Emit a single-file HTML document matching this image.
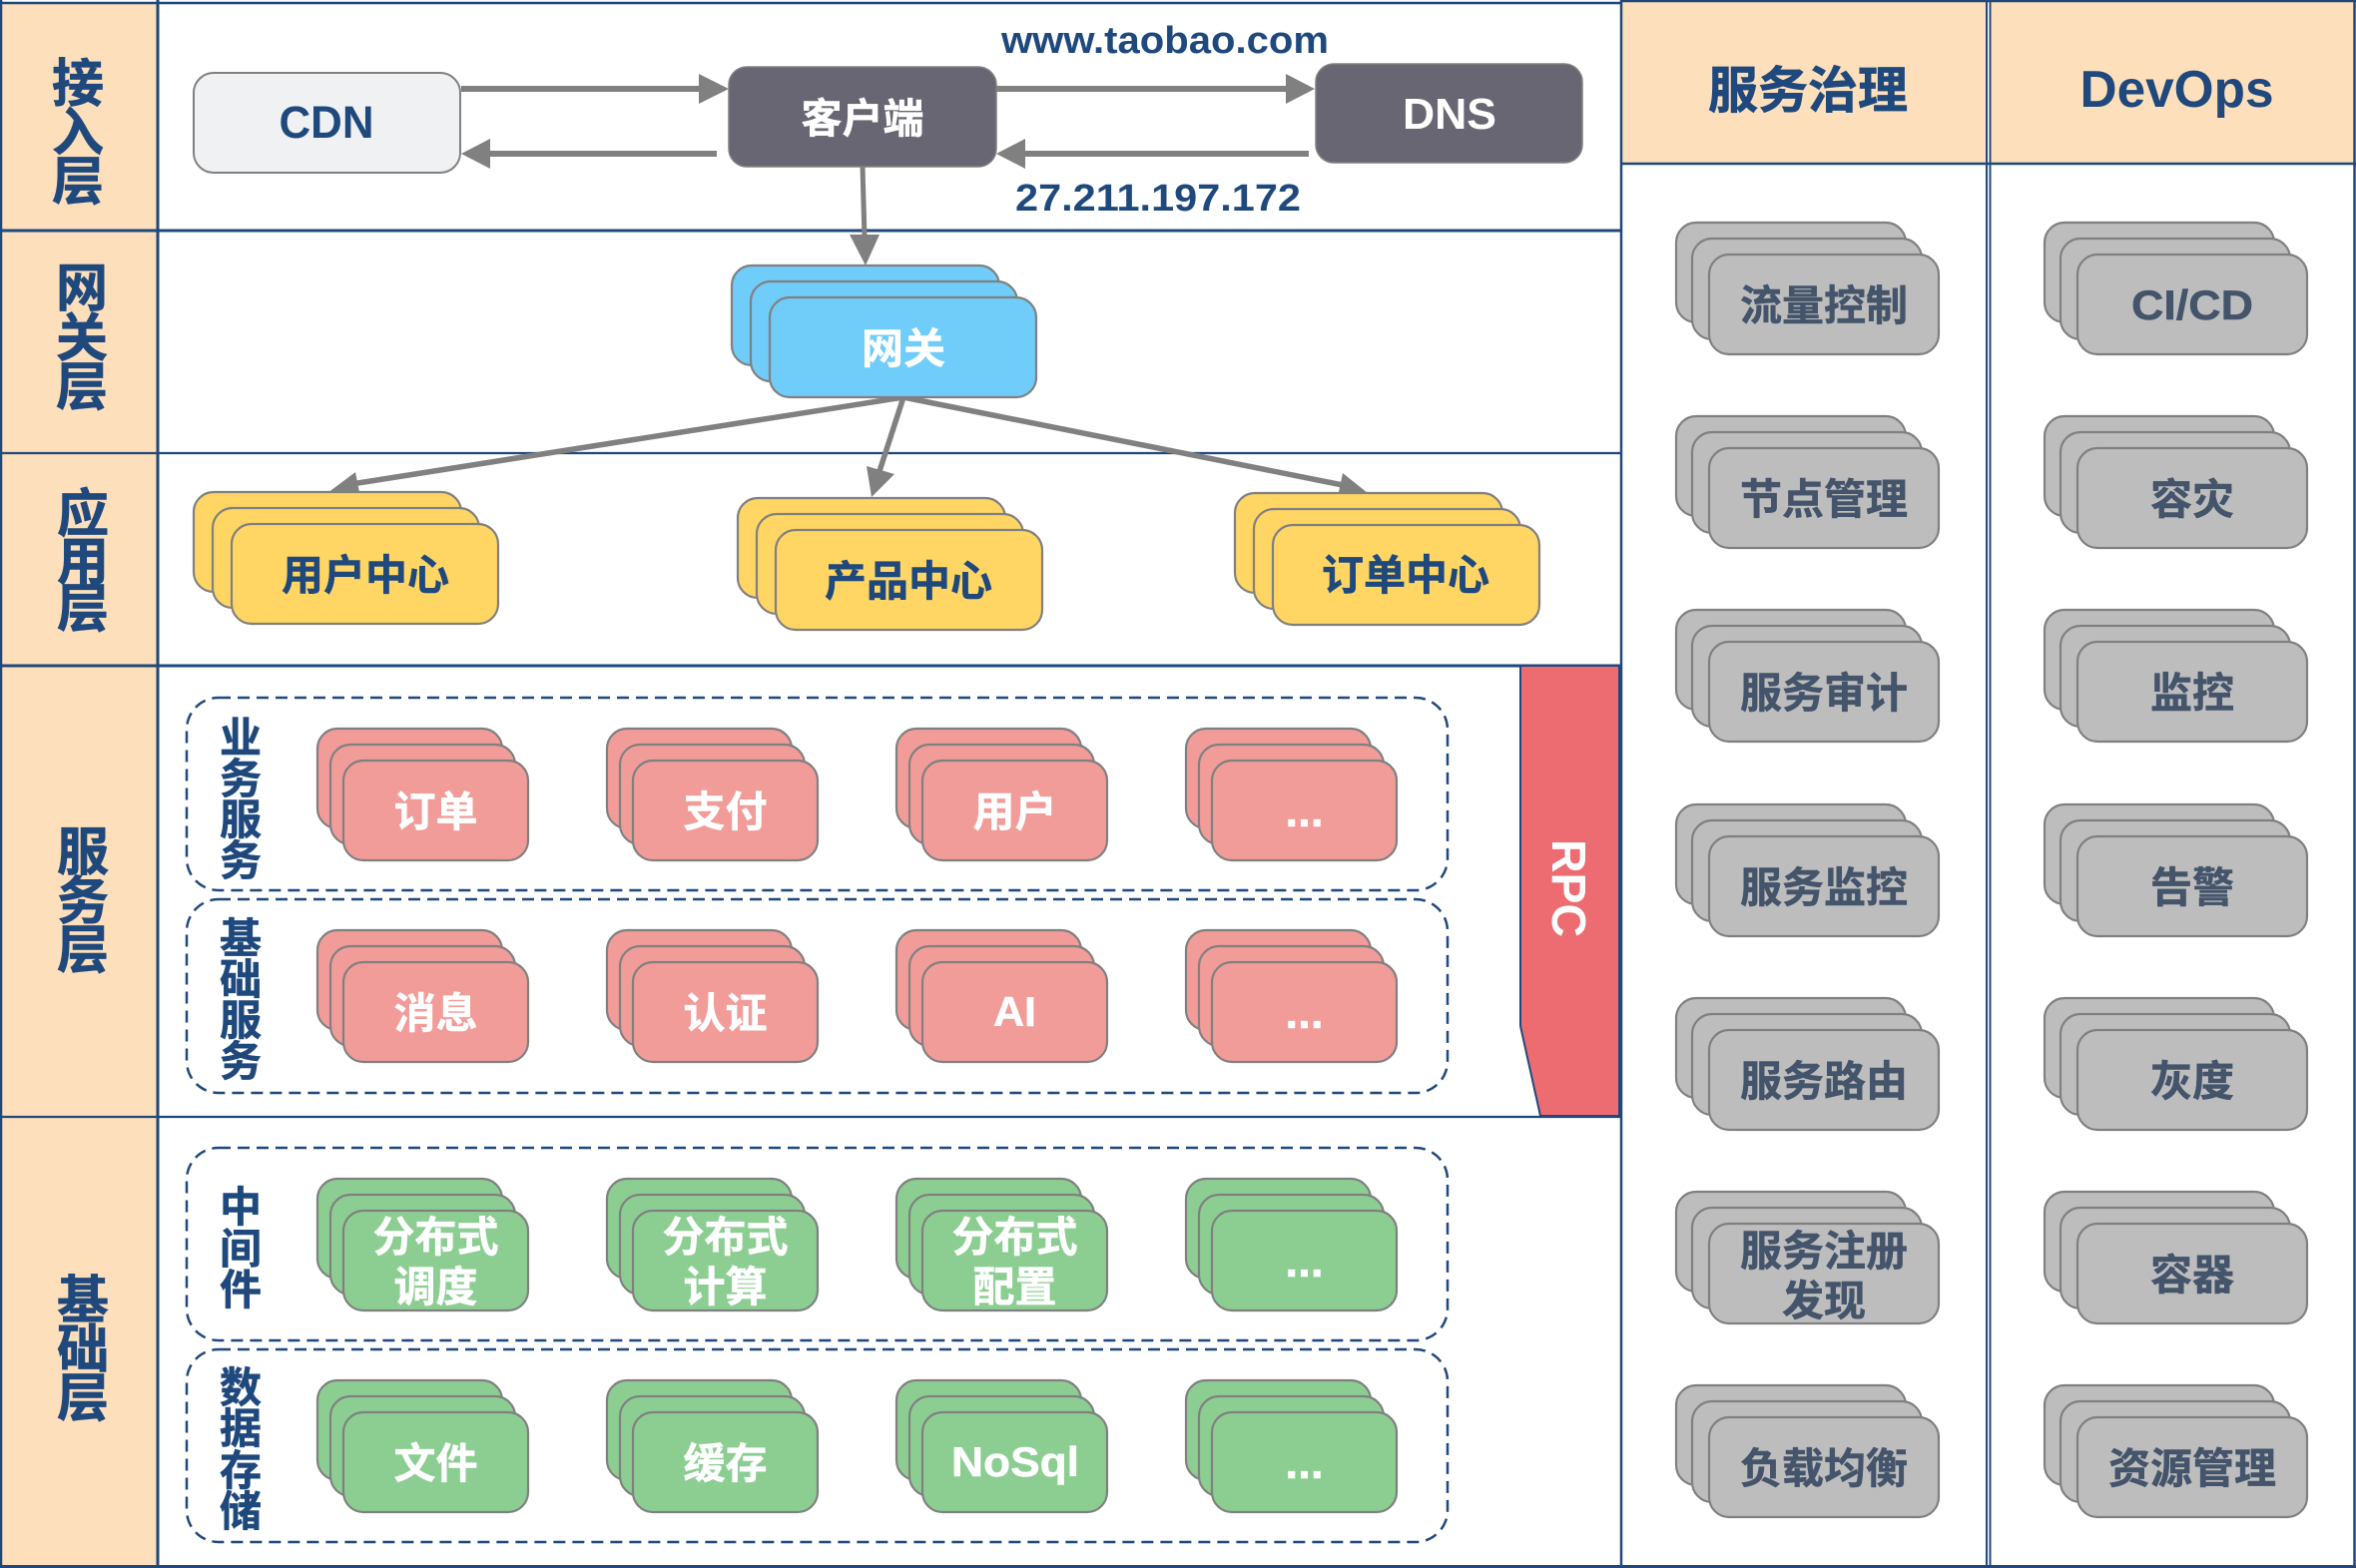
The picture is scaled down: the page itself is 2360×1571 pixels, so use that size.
<!DOCTYPE html>
<html lang="zh">
<head>
<meta charset="utf-8">
<title>Architecture</title>
<style>
html,body{margin:0;padding:0;background:#fff;width:2360px;height:1571px;overflow:hidden}
svg{display:block}
text{font-family:"Liberation Sans","Noto Sans CJK SC",sans-serif;font-weight:700}
.c{text-anchor:middle}
.n{fill:#1F497D}
.w{fill:#fff}
.g{fill:#44546A}
.l{font-size:52px;fill:#1F497D;text-anchor:middle;stroke:#1F497D;stroke-width:.7}
.s{font-size:42px;fill:#1F497D;text-anchor:middle;stroke:#1F497D;stroke-width:.6}
.t{font-size:42px;text-anchor:middle}
.d{font-size:46px;fill:#fff;text-anchor:middle}
.h{stroke:#1F497D;fill:none}
.a{stroke:#808080;fill:none}
.ah{fill:#808080}
.db{fill:#fff;stroke:#1F497D;stroke-width:2.5;stroke-dasharray:12 7}
</style>
</head>
<body>
<svg width="2360" height="1571" viewBox="0 0 2360 1571" xmlns="http://www.w3.org/2000/svg">
<defs>
  <g id="sm" stroke="#808080" stroke-width="2.2">
    <rect x="1" y="0" width="185" height="100" rx="20"/>
    <rect x="14" y="16" width="185" height="100" rx="20"/>
    <rect x="27" y="32" width="185" height="100" rx="20"/>
  </g>
  <g id="md" stroke="#808080" stroke-width="2.2">
    <rect x="1" y="1" width="230" height="100" rx="20"/>
    <rect x="17" y="17" width="230" height="101" rx="20"/>
    <rect x="34" y="33" width="230" height="100" rx="20"/>
  </g>
  <g id="lg" stroke="#808080" stroke-width="2.2">
    <rect x="0" y="0" width="268" height="100" rx="20"/>
    <rect x="19" y="16" width="267" height="100" rx="20"/>
    <rect x="38" y="32" width="267" height="100" rx="20"/>
  </g>
</defs>

<!-- left labels background -->
<rect x="2" y="3" width="156" height="1566" fill="#FDDFBC"/>
<!-- right headers -->
<rect x="1625" y="1" width="365" height="163" fill="#FDDFBC"/>
<rect x="1994" y="1" width="365" height="163" fill="#FDDFBC"/>

<!-- grid -->
<g class="h">
  <path d="M0 3H1624" stroke-width="2.5"/>
  <path d="M0 231H1624" stroke-width="3"/>
  <path d="M0 454H1624" stroke-width="2.2"/>
  <path d="M0 667H1624" stroke-width="3"/>
  <path d="M0 1119H1624" stroke-width="2.2"/>
  <path d="M0 1569.5H2360" stroke-width="3"/>
  <path d="M1 0V1571" stroke-width="2.5"/>
  <path d="M158 0V1571" stroke-width="3"/>
  <path d="M1624 0V1571" stroke-width="2.5"/>
  <path d="M1990 0V1571" stroke-width="2"/>
  <path d="M1993.5 0V1571" stroke-width="2"/>
  <path d="M2358.5 0V1571" stroke-width="2.5"/>
  <path d="M1624 1H2360" stroke-width="2.5"/>
  <path d="M1624 164H2360" stroke-width="2.5"/>
</g>

<!-- RPC -->
<path d="M1523 667H1622V1118H1543L1523 1028Z" fill="#EC6C72" stroke="#1F497D" stroke-width="2"/>
<text class="w" transform="translate(1572 890) rotate(90)" x="0" y="17" font-size="48" text-anchor="middle" textLength="98" lengthAdjust="spacingAndGlyphs">RPC</text>

<!-- dashed groups -->
<rect class="db" x="187" y="699" width="1263" height="193" rx="32"/>
<rect class="db" x="187" y="901" width="1263" height="194" rx="32"/>
<rect class="db" x="187" y="1150" width="1263" height="193" rx="32"/>
<rect class="db" x="187" y="1352" width="1263" height="193" rx="32"/>

<!-- arrows -->
<path class="a" stroke-width="6" d="M462 89H702M718 154H490M998 89H1289M1311 154H1026"/>
<polygon class="ah" points="730,89 700,74 700,104"/>
<polygon class="ah" points="462,154 491,139 491,169"/>
<polygon class="ah" points="1317,89 1288,74 1288,104"/>
<polygon class="ah" points="998,154 1027,139 1027,169"/>
<path class="a" stroke-width="5" d="M864 167L866 238"/>
<polygon class="ah" points="851,235 881,235 867,266"/>
<path class="a" stroke-width="5.5" d="M905 398L352 485M905 398L881 472M905 398L1350 487"/>
<polygon class="ah" points="328,494 356,473 360,493"/>
<polygon class="ah" points="873,498 868,467 896,475"/>
<polygon class="ah" points="1370,494 1345,474 1341,493"/>

<!-- top boxes -->
<rect x="194" y="73" width="267" height="100" rx="20" fill="#EFF1F3" stroke="#808080" stroke-width="2"/>
<rect x="730" y="67" width="268" height="100" rx="18" fill="#686672" stroke="#808080" stroke-width="1.5"/>
<rect x="1318" y="64" width="267" height="99" rx="18" fill="#686672" stroke="#808080" stroke-width="1.5"/>
<text class="n c" x="327" y="138" font-size="45" textLength="95" lengthAdjust="spacingAndGlyphs">CDN</text>
<text class="w c" x="864" y="133" font-size="41" stroke="#fff" stroke-width=".5">客户端</text>
<text class="w c" x="1452" y="129" font-size="44" textLength="94" lengthAdjust="spacingAndGlyphs">DNS</text>
<text class="n" x="1003" y="53" font-size="38" textLength="328" lengthAdjust="spacingAndGlyphs">www.taobao.com</text>
<text class="n" x="1017" y="211" font-size="38" textLength="286" lengthAdjust="spacingAndGlyphs">27.211.197.172</text>

<!-- gateway -->
<use href="#lg" x="733" y="266" fill="#70CCF9"/>
<text class="t w" x="905" y="364" stroke="#fff" stroke-width=".5">网关</text>

<!-- app layer -->
<use href="#lg" x="194" y="493" fill="#FFD564"/>
<use href="#lg" x="739" y="499" fill="#FFD564"/>
<use href="#lg" x="1237" y="494" fill="#FFD564"/>
<g fill="#1F497D" stroke="#1F497D" stroke-width=".5">
<text class="t" x="366" y="591">用户中心</text>
<text class="t" x="910" y="597">产品中心</text>
<text class="t" x="1408" y="591">订单中心</text>
</g>

<!-- left column labels -->
<text class="l" x="78" y="102">接</text><text class="l" x="78" y="151">入</text><text class="l" x="78" y="200">层</text>
<text class="l" x="82" y="307">网</text><text class="l" x="82" y="357">关</text><text class="l" x="82" y="406">层</text>
<text class="l" x="83" y="533">应</text><text class="l" x="83" y="581">用</text><text class="l" x="83" y="628">层</text>
<text class="l" x="83" y="872">服</text><text class="l" x="83" y="921">务</text><text class="l" x="83" y="970">层</text>
<text class="l" x="83" y="1321">基</text><text class="l" x="83" y="1370">础</text><text class="l" x="83" y="1419">层</text>

<!-- group labels -->
<text class="s" x="241" y="754">业</text><text class="s" x="241" y="795">务</text><text class="s" x="241" y="836">服</text><text class="s" x="241" y="877">务</text>
<text class="s" x="241" y="955">基</text><text class="s" x="241" y="996">础</text><text class="s" x="241" y="1037">服</text><text class="s" x="241" y="1078">务</text>
<text class="s" x="241" y="1224">中</text><text class="s" x="241" y="1266">间</text><text class="s" x="241" y="1307">件</text>
<text class="s" x="241" y="1405">数</text><text class="s" x="241" y="1446">据</text><text class="s" x="241" y="1488">存</text><text class="s" x="241" y="1529">储</text>

<!-- pink stacks -->
<g fill="#F19C99">
<use href="#sm" x="317" y="730"/><use href="#sm" x="607" y="730"/><use href="#sm" x="897" y="730"/><use href="#sm" x="1187" y="730"/>
<use href="#sm" x="317" y="932"/><use href="#sm" x="607" y="932"/><use href="#sm" x="897" y="932"/><use href="#sm" x="1187" y="932"/>
</g>
<!-- green stacks -->
<g fill="#8CCE92">
<use href="#sm" x="317" y="1181"/><use href="#sm" x="607" y="1181"/><use href="#sm" x="897" y="1181"/><use href="#sm" x="1187" y="1181"/>
<use href="#sm" x="317" y="1383"/><use href="#sm" x="607" y="1383"/><use href="#sm" x="897" y="1383"/><use href="#sm" x="1187" y="1383"/>
</g>

<g stroke="#fff" stroke-width=".5">
<text class="t w" x="436.5" y="828">订单</text>
<text class="t w" x="726.5" y="828">支付</text>
<text class="t w" x="1016.5" y="828">用户</text>
<text class="d" x="1306.5" y="828">...</text>
<text class="t w" x="436.5" y="1030">消息</text>
<text class="t w" x="726.5" y="1030">认证</text>
<text class="t w" x="1016.5" y="1028" textLength="43" lengthAdjust="spacingAndGlyphs">AI</text>
<text class="d" x="1306.5" y="1030">...</text>
<text class="t w" x="436.5" y="1254">分布式</text><text class="t w" x="436.5" y="1304">调度</text>
<text class="t w" x="726.5" y="1254">分布式</text><text class="t w" x="726.5" y="1304">计算</text>
<text class="t w" x="1016.5" y="1254">分布式</text><text class="t w" x="1016.5" y="1304">配置</text>
<text class="d" x="1306.5" y="1279">...</text>
<text class="t w" x="436.5" y="1481">文件</text>
<text class="t w" x="726.5" y="1481">缓存</text>
<text class="t w" x="1017" y="1479" textLength="128" lengthAdjust="spacingAndGlyphs">NoSql</text>
<text class="d" x="1306.5" y="1481">...</text>
</g>

<!-- right headers text -->
<text class="n c" x="1811" y="108" font-size="50" stroke="#1F497D" stroke-width=".7">服务治理</text>
<text class="n c" x="2180.5" y="107" font-size="52" textLength="194" lengthAdjust="spacingAndGlyphs">DevOps</text>

<!-- right stacks -->
<g fill="#BDBDBD">
<use href="#md" x="1678" y="222"/><use href="#md" x="2047" y="222"/>
<use href="#md" x="1678" y="416"/><use href="#md" x="2047" y="416"/>
<use href="#md" x="1678" y="610"/><use href="#md" x="2047" y="610"/>
<use href="#md" x="1678" y="805"/><use href="#md" x="2047" y="805"/>
<use href="#md" x="1678" y="999"/><use href="#md" x="2047" y="999"/>
<use href="#md" x="1678" y="1193"/><use href="#md" x="2047" y="1193"/>
<use href="#md" x="1678" y="1387"/><use href="#md" x="2047" y="1387"/>
</g>
<g stroke="#44546A" stroke-width=".5">
<text class="t g" x="1827" y="321">流量控制</text>
<text class="t g" x="1827" y="515">节点管理</text>
<text class="t g" x="1827" y="709">服务审计</text>
<text class="t g" x="1827" y="904">服务监控</text>
<text class="t g" x="1827" y="1098">服务路由</text>
<text class="t g" x="1827" y="1268">服务注册</text><text class="t g" x="1827" y="1318">发现</text>
<text class="t g" x="1827" y="1486">负载均衡</text>
<text class="t g" x="2196" y="320" font-size="44" textLength="122" lengthAdjust="spacingAndGlyphs">CI/CD</text>
<text class="t g" x="2196" y="515">容灾</text>
<text class="t g" x="2196" y="709">监控</text>
<text class="t g" x="2196" y="904">告警</text>
<text class="t g" x="2196" y="1098">灰度</text>
<text class="t g" x="2196" y="1292">容器</text>
<text class="t g" x="2196" y="1486">资源管理</text>
</g>
</svg>
</body>
</html>
